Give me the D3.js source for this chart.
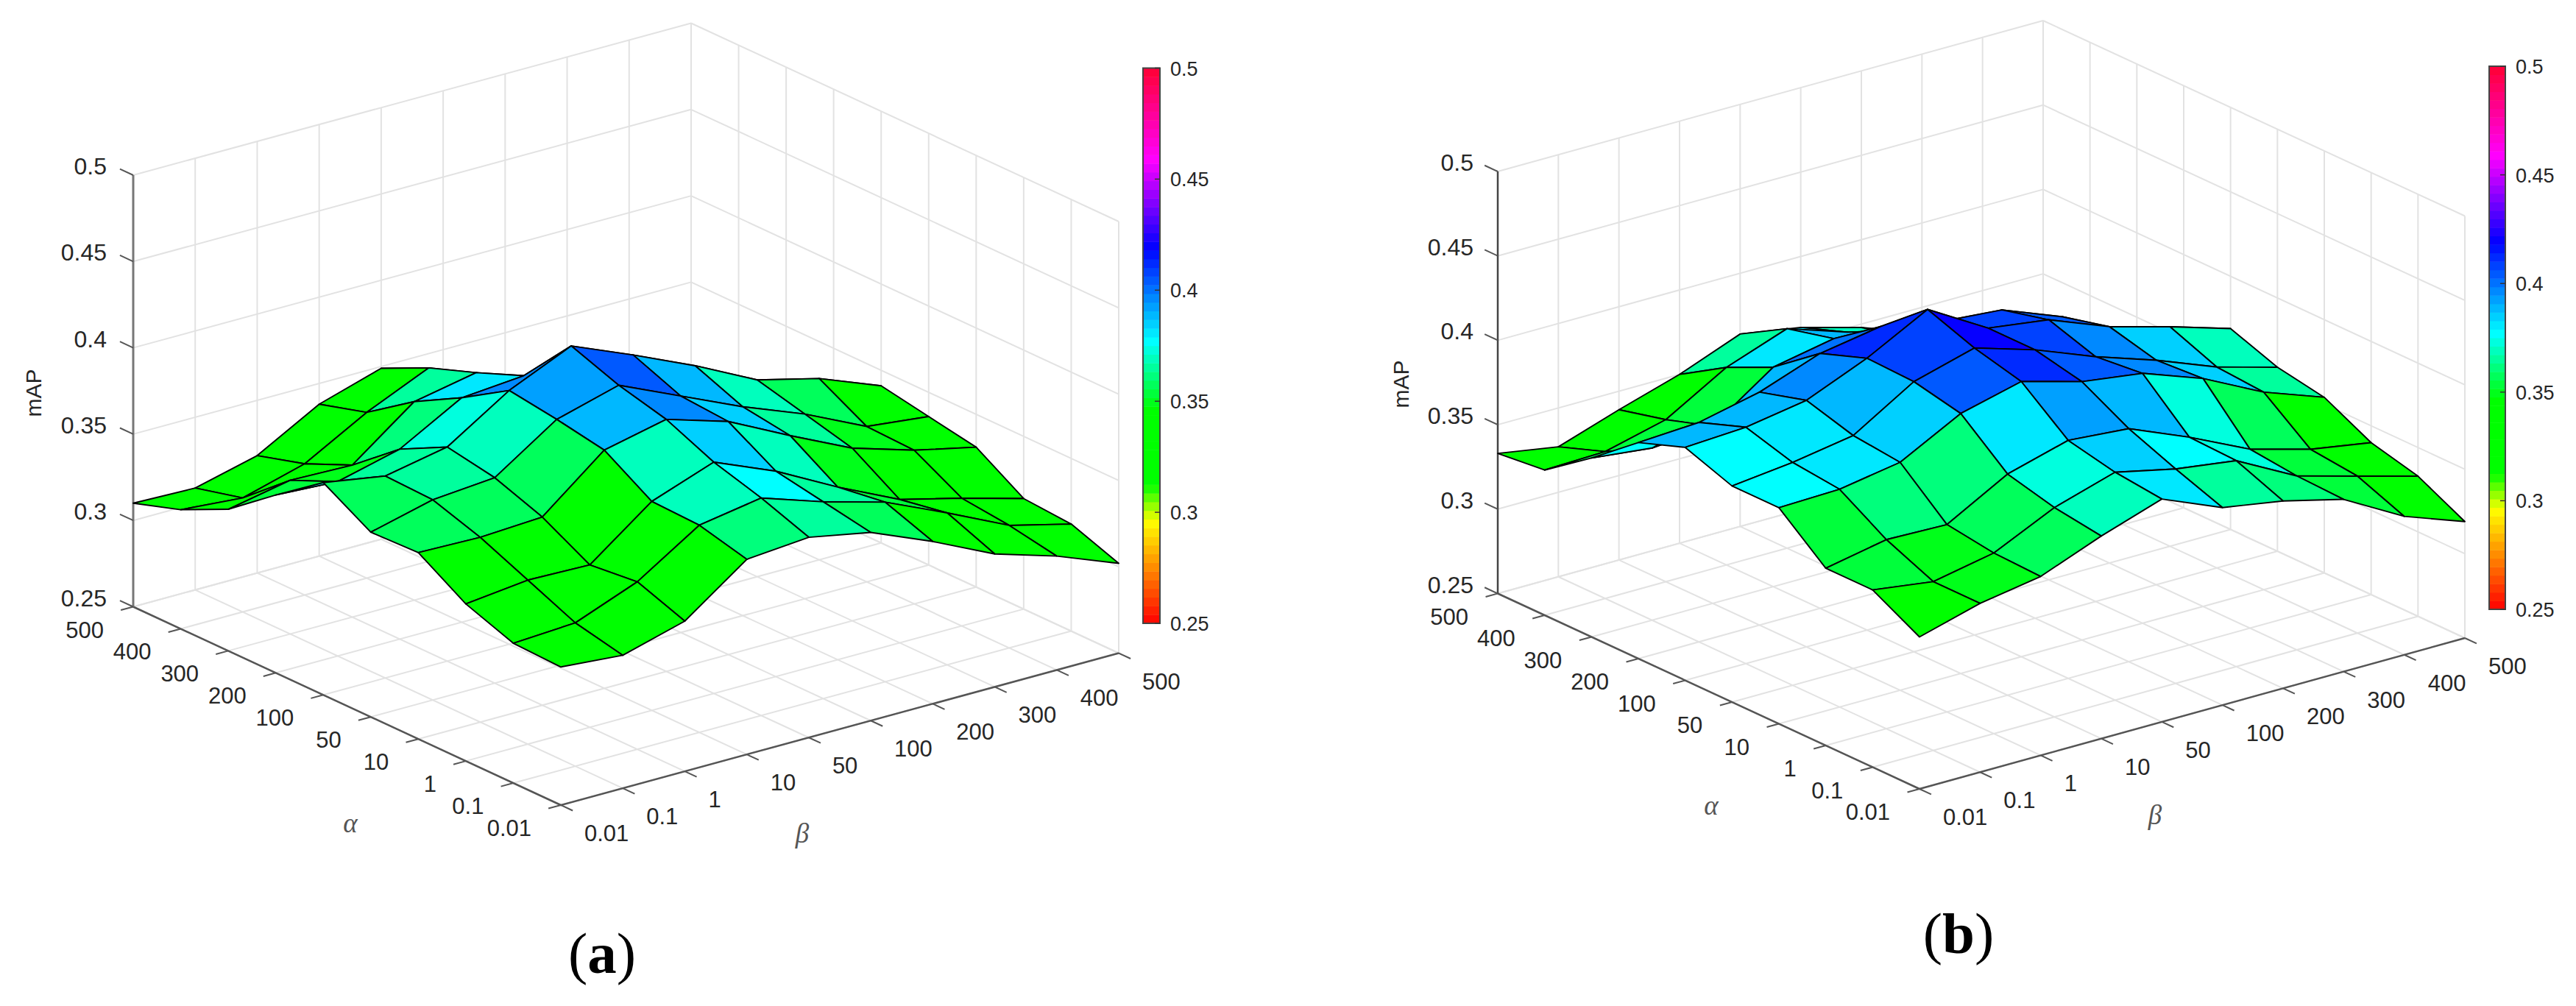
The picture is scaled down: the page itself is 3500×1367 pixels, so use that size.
<!DOCTYPE html>
<html>
<head>
<meta charset="utf-8">
<script src="https://cdnjs.cloudflare.com/ajax/libs/d3/7.8.5/d3.min.js"></script>
<style>
  html, body { margin: 0; padding: 0; background: #fff; }
  text { font-family: "Liberation Sans", Arial, sans-serif; fill: #262626; }
  .greek { font-family: "Liberation Serif", serif; font-style: italic; fill: #555; font-size: 37px; }
  .caption { font-family: "Liberation Serif", serif; fill: #000; font-size: 79px; }
</style>
</head>
<body>
<div id="chart"></div>
<script>
// Tick labels of the two parameter axes and the height axis
const alphaTicks = ['0.01', '0.1', '1', '10', '50', '100', '200', '300', '400', '500'];
const betaTicks = ['0.01', '0.1', '1', '10', '50', '100', '200', '300', '400', '500'];
const zTicks = [0.25, 0.3, 0.35, 0.4, 0.45, 0.5];

// mAP, one row per alpha, one column per beta.
// The far right corner is hidden behind the ridge, those are guesses.
const surfaceA = [
  [.330, .327, .337, .363, .366, .359, .344, .327, .316, .302],
  [.331, .333, .347, .370, .376, .364, .354, .338, .321, .312],
  [.341, .345, .344, .371, .384, .369, .350, .333, .324, .314],
  [.358, .357, .359, .388, .396, .385, .367, .350, .339, .331],
  [.357, .366, .369, .393, .403, .387, .371, .357, .340, .336],
  [.373, .367, .374, .397, .413, .398, .382, .364, .355, .341],
  [.353, .351, .360, .380, .383, .370, .360, .345, .333, .320],
  [.332, .339, .338, .365, .372, .357, .344, .329, .318, .305],
  [.319, .316, .326, .346, .362, .346, .330, .317, .304, .290],
  [.310, .309, .318, .338, .349, .334, .318, .303, .289, .275]
];
const surfaceB = [
  [.340, .350, .356, .370, .382, .367, .361, .352, .332, .319],
  [.355, .350, .357, .374, .385, .377, .372, .353, .343, .333],
  [.355, .362, .361, .381, .391, .388, .373, .356, .346, .340],
  [.378, .379, .385, .404, .413, .403, .398, .385, .367, .354],
  [.378, .382, .388, .410, .420, .409, .395, .383, .369, .359],
  [.388, .390, .396, .411, .430, .409, .404, .390, .380, .369],
  [.378, .380, .388, .401, .407, .400, .397, .383, .364, .349],
  [.356, .352, .355, .380, .387, .382, .374, .359, .348, .333],
  [.336, .337, .346, .367, .380, .368, .355, .342, .329, .313],
  [.333, .327, .339, .350, .364, .358, .348, .335, .322, .306]
];

// Colormap of the figure, 64 flat bands over the z range
const colorStops = [0, 0.184, 0.25, 0.386, 0.508, 0.676, 0.835, 1];
const colorValues = ['#ff0000', '#ffff00', '#00ff00', '#00ff00', '#00ffff', '#0000ff', '#ff00ff', '#ff0033'];
const nBands = 64;

const width = 3500;
const height = 1367;

const zNorm = d3.scaleLinear().domain([0.25, 0.5]).range([0, 1]);
const ramp = d3.scaleLinear().domain(colorStops).range(colorValues);

function bandColor(i) {
    return ramp((i + 0.5) / nBands);
}

function zColor(z) {
    const i = Math.min(nBands - 1, Math.floor(zNorm(z) * nBands));
    return bandColor(i);
}

const svg = d3.select('#chart')
    .append('svg')
    .attr('width', width)
    .attr('height', height)
    .style('display', 'block');

drawPanel(surfaceA, {
    front: [762, 1094], alphaEnd: [181, 824.5], betaEnd: [1520, 887.5], zHeight: 586.5,
    axisColor: '#777', axisWidth: 3,
    zLabelDx: -36, mapPos: [56, 534],
    alphaLabel: [476, 1131], betaLabel: [1090, 1145],
    bar: { x0: 1553, x1: 1576, top: 92.5, bottom: 847 },
    caption: [818, 1322, 'a']
});
drawPanel(surfaceB, {
    front: [2608, 1072], alphaEnd: [2035, 806.5], betaEnd: [3349, 867], zHeight: 573.5,
    axisColor: '#444', axisWidth: 2.5,
    zLabelDx: -33, mapPos: [1914, 522],
    alphaLabel: [2325, 1107], betaLabel: [2928, 1120],
    bar: { x0: 3382, x1: 3404, top: 90, bottom: 828 },
    caption: [2661, 1295, 'b']
});

function drawPanel(surface, p) {
    const g = svg.append('g');

    // Data index -> page position, the plot is an oblique box
    const uScale = d3.scalePoint().domain(alphaTicks).range([0, 1]);
    const vScale = d3.scalePoint().domain(betaTicks).range([0, 1]);
    const zScale = d3.scaleLinear().domain([0.25, 0.5]).range([0, p.zHeight]);
    const last = alphaTicks.length - 1;

    function project(u, v, z) {
        const fu = u / last;
        const fv = v / last;
        return [
            p.front[0] + fu * (p.alphaEnd[0] - p.front[0]) + fv * (p.betaEnd[0] - p.front[0]),
            p.front[1] + fu * (p.alphaEnd[1] - p.front[1]) + fv * (p.betaEnd[1] - p.front[1]) - zScale(z)
        ];
    }

    function segment(a, b, color, w) {
        g.append('line')
            .attr('x1', a[0]).attr('y1', a[1])
            .attr('x2', b[0]).attr('y2', b[1])
            .attr('stroke', color)
            .attr('stroke-width', w);
    }

    // Floor and back walls
    const gridColor = '#e2e2e2';
    alphaTicks.forEach((t) => {
        const u = uScale(t) * last;
        segment(project(u, 0, 0.25), project(u, last, 0.25), gridColor, 2);
        segment(project(u, last, 0.25), project(u, last, 0.5), gridColor, 2);
    });
    betaTicks.forEach((t) => {
        const v = vScale(t) * last;
        segment(project(0, v, 0.25), project(last, v, 0.25), gridColor, 2);
        segment(project(last, v, 0.25), project(last, v, 0.5), gridColor, 2);
    });
    zTicks.forEach((z) => {
        segment(project(last, 0, z), project(last, last, z), gridColor, 2);
        segment(project(last, last, z), project(0, last, z), gridColor, 2);
    });

    // Axis lines and ticks
    segment(project(0, 0, 0.25), project(last, 0, 0.25), '#555', 2.5);
    segment(project(0, 0, 0.25), project(0, last, 0.25), '#555', 2.5);
    segment(project(last, 0, 0.25), project(last, 0, 0.5), p.axisColor, p.axisWidth);

    alphaTicks.forEach((t) => {
        const u = uScale(t) * last;
        const a = project(u, 0, 0.25);
        segment(a, project(u, -0.2, 0.25), '#555', 2);
        g.append('text')
            .attr('x', a[0] - 40)
            .attr('y', a[1] + 31 + 11)
            .attr('text-anchor', 'end')
            .attr('font-size', 31)
            .text(t);
    });
    betaTicks.forEach((t) => {
        const v = vScale(t) * last;
        const a = project(0, v, 0.25);
        segment(a, project(-0.25, v, 0.25), '#555', 2);
        g.append('text')
            .attr('x', a[0] + 32)
            .attr('y', a[1] + 38 + 11)
            .attr('font-size', 31)
            .text(t);
    });
    zTicks.forEach((z) => {
        const a = project(last, 0, z);
        segment(a, project(last + 0.28, 0, z), '#555', 2);
        g.append('text')
            .attr('x', a[0] + p.zLabelDx)
            .attr('y', a[1] - 12 + 11)
            .attr('text-anchor', 'end')
            .attr('font-size', 32)
            .text(z);
    });

    // Surface, far cells first so the near ones cover them
    const cells = [];
    for (let u = last - 1; u >= 0; u--) {
        for (let v = last - 1; v >= 0; v--) {
            cells.push({ u: u, v: v });
        }
    }
    const line = d3.line();
    g.append('g')
        .selectAll('path')
        .data(cells)
        .enter()
        .append('path')
        .attr('d', (d) => line([
            project(d.u, d.v, surface[d.u][d.v]),
            project(d.u + 1, d.v, surface[d.u + 1][d.v]),
            project(d.u + 1, d.v + 1, surface[d.u + 1][d.v + 1]),
            project(d.u, d.v + 1, surface[d.u][d.v + 1])
        ]) + 'Z')
        .attr('fill', (d) => zColor(surface[d.u][d.v]))
        .attr('stroke', '#000')
        .attr('stroke-width', 1.9)
        .attr('stroke-linejoin', 'round');

    // Axis names
    g.append('text')
        .attr('transform', 'translate(' + p.mapPos[0] + ',' + p.mapPos[1] + ') rotate(-90)')
        .attr('text-anchor', 'middle')
        .attr('font-size', 30)
        .text('mAP');
    g.append('text').attr('class', 'greek')
        .attr('x', p.alphaLabel[0]).attr('y', p.alphaLabel[1])
        .attr('text-anchor', 'middle')
        .text('α');
    g.append('text').attr('class', 'greek')
        .attr('x', p.betaLabel[0]).attr('y', p.betaLabel[1])
        .attr('text-anchor', 'middle')
        .text('β');

    // Colorbar
    const barScale = d3.scaleLinear().domain([0.25, 0.5]).range([p.bar.bottom, p.bar.top]);
    const bandH = (p.bar.bottom - p.bar.top) / nBands;
    g.append('g')
        .selectAll('rect')
        .data(d3.range(nBands))
        .enter()
        .append('rect')
        .attr('x', p.bar.x0)
        .attr('y', (d) => p.bar.bottom - (d + 1) * bandH)
        .attr('width', p.bar.x1 - p.bar.x0)
        .attr('height', bandH + 0.5)
        .attr('fill', (d) => bandColor(d));
    g.append('rect')
        .attr('x', p.bar.x0)
        .attr('y', p.bar.top)
        .attr('width', p.bar.x1 - p.bar.x0)
        .attr('height', p.bar.bottom - p.bar.top)
        .attr('fill', 'none')
        .attr('stroke', '#444')
        .attr('stroke-width', 2);
    zTicks.forEach((z) => {
        segment([p.bar.x1 - 7, barScale(z)], [p.bar.x1, barScale(z)], '#333', 1.5);
        g.append('text')
            .attr('x', p.bar.x1 + 14)
            .attr('y', barScale(z) + 10)
            .attr('font-size', 27)
            .text(z);
    });

    // (a) / (b) caption with the bold letter
    const cap = g.append('text').attr('class', 'caption')
        .attr('x', p.caption[0]).attr('y', p.caption[1])
        .attr('text-anchor', 'middle');
    cap.append('tspan').text('(');
    cap.append('tspan').attr('font-weight', 'bold').text(p.caption[2]);
    cap.append('tspan').text(')');
}
</script>
</body>
</html>
